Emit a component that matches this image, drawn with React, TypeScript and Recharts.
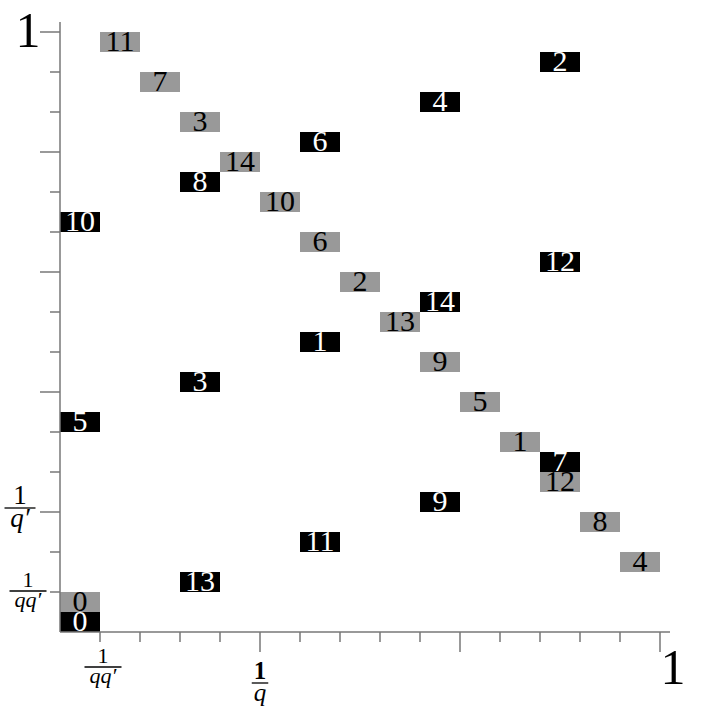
import { ScatterChart, Scatter, XAxis, YAxis, ReferenceArea } from 'recharts';

// grid is 15 x 15 cells (q = 3, q' = 5), each box is one cell wide and half a cell tall
const blackLabels = [0, 1, 2, 3, 4, 5, 6, 7, 8, 9, 10, 11, 12, 13, 14];
const blackX = [0, 6, 12, 3, 9, 0, 6, 12, 3, 9, 0, 6, 12, 3, 9];
const blackY = [0, 7, 14, 6, 13, 5, 12, 4, 11, 3, 10, 2, 9, 1, 8];

const grayLabels = [0, 1, 2, 3, 4, 5, 6, 7, 8, 9, 10, 11, 12, 13, 14];
const grayX = [0, 11, 7, 3, 14, 10, 6, 2, 13, 9, 5, 1, 12, 8, 4];
const grayY = [0.5, 4.5, 8.5, 12.5, 1.5, 5.5, 9.5, 13.5, 2.5, 6.5, 10.5, 14.5, 3.5, 7.5, 11.5];

const gridTicks = [0, 1, 2, 3, 4, 5, 6, 7, 8, 9, 10, 11, 12, 13, 14, 15];

const AXIS = '#777777';
const GRAY = '#999999';
const SERIF = '"Liberation Serif", "DejaVu Serif", serif';

const boxes = [
  ...blackLabels.map((n, i) => ({ n, x: blackX[i], y: blackY[i], fill: '#000000', text: '#ffffff' })),
  ...grayLabels.map((n, i) => ({ n, x: grayX[i], y: grayY[i], fill: GRAY, text: '#000000' })),
];

const centers = boxes.map((b) => ({ x: b.x + 0.5, y: b.y + 0.25 }));

function Frac({ x, y, top, bottom, size, bold }: { x: number; y: number; top: string; bottom: string; size: number; bold?: boolean }) {
  const w = bottom.length * size * 0.5 + 4;
  return (
    <g fontFamily={SERIF}>
      <text x={x} y={y - 4} textAnchor="middle" fontSize={size} fontWeight={bold ? 'bold' : 'normal'} fill="#000">{top}</text>
      <line x1={x - w / 2} x2={x + w / 2} y1={y} y2={y} stroke="#000" strokeWidth={1.3} />
      <text x={x} y={y + size * 0.72} textAnchor="middle" fontSize={size} fontStyle="italic" fill="#000">{bottom}</text>
    </g>
  );
}

// eslint-disable-next-line @typescript-eslint/no-explicit-any
function XTick(props: any) {
  const { x, y, payload } = props;
  const v = payload.value;
  if (v === 0) return null;
  const len = v % 5 === 0 ? 20 : 10;
  return (
    <g>
      <line x1={x} x2={x} y1={y} y2={y + len} stroke={AXIS} strokeWidth={1.5} />
      {v === 1 && <Frac x={x + 3} y={y + 35} top="1" bottom="qq′" size={22} />}
      {v === 5 && <Frac x={x} y={y + 51} top="1" bottom="q" size={25} bold />}
      {v === 15 && (
        <text x={x + 13} y={y + 52} textAnchor="middle" fontSize={50} fontFamily={SERIF} fill="#000">1</text>
      )}
    </g>
  );
}

// eslint-disable-next-line @typescript-eslint/no-explicit-any
function YTick(props: any) {
  const { x, y, payload } = props;
  const v = payload.value;
  if (v === 0) return null;
  const len = v % 3 === 0 ? 20 : 10;
  return (
    <g>
      <line x1={x - len} x2={x} y1={y} y2={y} stroke={AXIS} strokeWidth={1.5} />
      {v === 1 && <Frac x={x - 32} y={y - 1} top="1" bottom="qq′" size={22} />}
      {v === 3 && <Frac x={x - 40} y={y - 4} top="1" bottom="q′" size={27} />}
      {v === 15 && (
        <text x={x - 32} y={y + 15} textAnchor="middle" fontSize={50} fontFamily={SERIF} fill="#000">1</text>
      )}
    </g>
  );
}

export default function App() {
  return (
    <div style={{ position: 'absolute', left: 0, top: 0, background: '#fff' }}>
      <ScatterChart width={706} height={722} margin={{ top: 22, right: 36, bottom: 0, left: 0 }}>
        <XAxis
          type="number"
          dataKey="x"
          domain={[0, 15.25]}
          ticks={gridTicks}
          interval={0}
          height={90}
          tickSize={0}
          tickMargin={0}
          tickLine={false}
          axisLine={{ stroke: AXIS, strokeWidth: 1.5 }}
          tick={<XTick />}
          allowDataOverflow
        />
        <YAxis
          type="number"
          dataKey="y"
          domain={[0, 15.25]}
          ticks={gridTicks}
          interval={0}
          width={60}
          tickSize={0}
          tickMargin={0}
          tickLine={false}
          axisLine={{ stroke: AXIS, strokeWidth: 1.5 }}
          tick={<YTick />}
          allowDataOverflow
        />
        {boxes.map((b, i) => (
          <ReferenceArea
            key={i}
            x1={b.x}
            x2={b.x + 1}
            y1={b.y}
            y2={b.y + 0.5}
            fill={b.fill}
            fillOpacity={1}
            stroke="none"
            // eslint-disable-next-line @typescript-eslint/no-explicit-any
            label={(p: any) => {
              const vb = p.viewBox || {};
              return (
                <text
                  x={vb.x + vb.width / 2}
                  y={vb.y + vb.height - 1}
                  textAnchor="middle"
                  fontSize={30}
                  fontFamily={SERIF}
                  fill={b.text}
                >
                  {b.n}
                </text>
              );
            }}
          />
        ))}
        <Scatter data={centers} isAnimationActive={false} shape={() => <g />} />
      </ScatterChart>
    </div>
  );
}
